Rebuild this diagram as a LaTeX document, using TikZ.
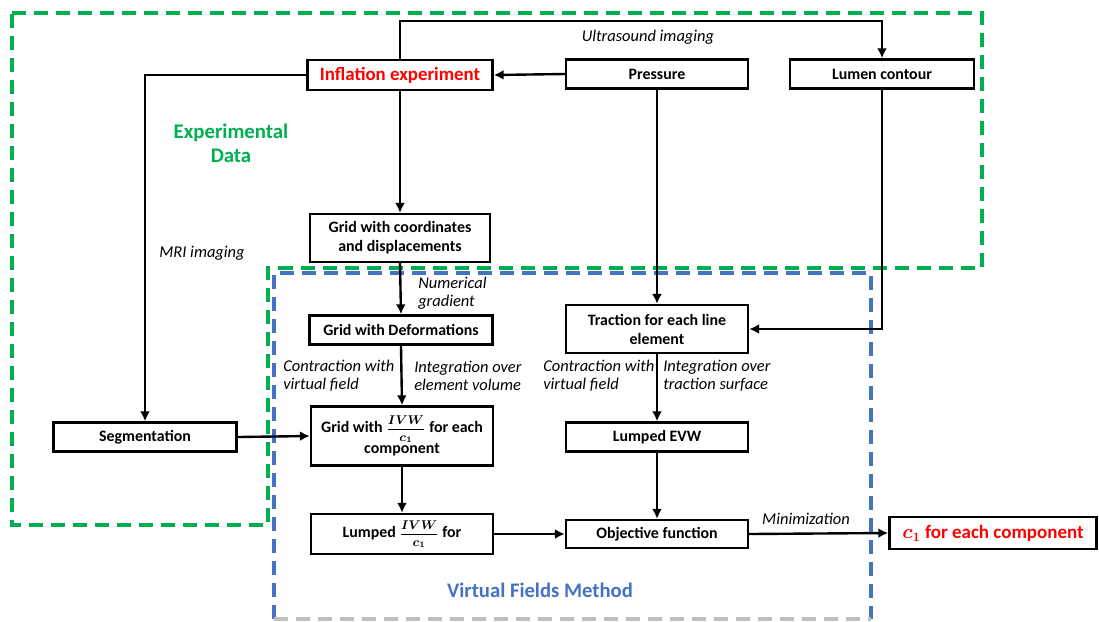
\documentclass[tikz,border=0pt]{standalone}
\usepackage{fontspec}
\setmainfont{Carlito}
\usepackage{amsmath}
\usetikzlibrary{positioning, arrows.meta}
\definecolor{expgreen}{RGB}{0,176,80}
\definecolor{vfmblue}{RGB}{68,114,196}
\definecolor{infred}{RGB}{255,0,0}

\begin{document}
\begin{tikzpicture}[x=0.025cm, y=-0.025cm,
	block/.style={draw, rectangle, line width=1.7pt, text centered, align=center, inner sep=1pt,
	minimum width=4.55cm, minimum height=0.73cm, font=\fontsize{11.3}{13.5}\selectfont\bfseries\boldmath},
	link/.style={-{Latex[length=7pt, width=7pt]}, line width=1.7pt},
	note/.style={font=\fontsize{11.7}{13}\selectfont\itshape, align=left, inner sep=0pt},
	region/.style={line width=2.2pt, dash pattern=on 0.35cm off 0.2cm}]
			
			\useasboundingbox (0,0) rectangle (1099,621);
			
			%Experimental data region
			\draw[region, expgreen] (12,13) -- (982,13) -- (982,268) -- (268,268) -- (268,525) 
			-- (12,525) -- cycle;
			
			%Virtual fields method region
			\draw[region, vfmblue] (274,619) -- (274,273) -- (871,273) -- (871,619);
			\draw[region, gray!50] (274,619) -- (871,619);
			
			%Inflation experiment
			\node (inflationExperiment) at (400,75) [block, minimum width=4.63cm, minimum 
			height=0.75cm, text=infred, font=\fontsize{13.4}{15}\selectfont\bfseries]{Inflation experiment};
			
			%Pressure
			\node (pressure) at (657,74) [block]{Pressure};
			
			%Lumen contour
			\node (lumenContour) at (882,74) [block, minimum width=4.6cm]{Lumen contour};
			
			%Grid with coordinates
			\node (gridCoordinates) at (400,238) [block, minimum width=4.5cm, minimum 
			height=1.2cm]{Grid with coordinates\\ and displacements};
			
			%Grid with deformations
			\node (gridDeformations) at (401,330) [block, minimum width=4.58cm]{Grid with 
			Deformations};
			
			%Traction
			\node (traction) at (657,329) [block, minimum height=1.2cm]{Traction for each line\\ 
			element};
			
			%Segmentation
			\node (segmentation) at (145,437) [block, minimum width=4.58cm]{Segmentation};
			
			%Grid with IVW
			\node (gridIVW) at (402,436) [block, minimum height=1.48cm]{Grid with 
			{\small$\dfrac{IVW}{c_1}$} for each\\ component};
			
			%Lumped EVW
			\node (lumpedEVW) at (657,437) [block]{Lumped EVW};
			
			%Lumped IVW
			\node (lumpedIVW) at (402,534) [block, minimum height=1.0cm]{Lumped 
			{\small$\dfrac{IVW}{c_1}$} for};
			
			%Objective function
			\node (objectiveFunction) at (657,534) [block, minimum height=0.7cm]{Objective 
			function};
			
			%Result
			\node (stiffness) at (993,533) [block, minimum width=5.18cm, minimum height=0.8cm, 
			text=infred, font=\fontsize{13.5}{15}\selectfont\bfseries\boldmath]{$c_1$\ for each 
			component};
			
			%Links
			\draw[link] (pressure.west) -- (inflationExperiment.east);
			\draw[link] (inflationExperiment.north) -- ++(0,-38) -| (lumenContour.north);
			\draw[link] (inflationExperiment.west) -| (segmentation.north);
			\draw[link] (inflationExperiment.south) -- (gridCoordinates.north);
			\draw[link] (gridCoordinates.south) -- (gridDeformations.north);
			\draw[link] (pressure.south) -- (traction.north);
			\draw[link] (lumenContour.south) |- (traction.east);
			\draw[link] (gridDeformations.south) -- (gridIVW.north);
			\draw[link] (traction.south) -- (lumpedEVW.north);
			\draw[link] (segmentation.east) -- (gridIVW.west);
			\draw[link] (gridIVW.south) -- (lumpedIVW.north);
			\draw[link] (lumpedIVW.east) -- (objectiveFunction.west);
			\draw[link] (lumpedEVW.south) -- (objectiveFunction.north);
			\draw[link] (objectiveFunction.east) -- (stiffness.west);
			
			%Link labels
			\node (ultrasoundLabel) at (648,37) [note]{Ultrasound imaging};
			\node (mriLabel) at (202,253) [note]{MRI imaging};
			\node (gradientLabel) at (418,293) [note, anchor=west]{Numerical\\ gradient};
			\node (contractionLeft) at (283,376) [note, anchor=west]{Contraction with\\ virtual 
			field};
			\node (integrationVolume) at (414,376) [note, anchor=west]{Integration over\\ element 
			volume};
			\node (contractionRight) at (543,376) [note, anchor=west]{Contraction with\\ virtual 
			field};
			\node (integrationSurface) at (663,376) [note, anchor=west]{Integration over\\ 
			traction surface};
			\node (minimizationLabel) at (806,519) [note]{Minimization};
			
			%Region labels
			\node (experimentalLabel) at (231,143) [text=expgreen, align=center, 
			font=\fontsize{14.8}{17}\selectfont\bfseries]{Experimental\\ Data};
			\node (vfmLabel) at (540,590) [text=vfmblue, 
			font=\fontsize{14.7}{17}\selectfont\bfseries]{Virtual Fields Method};
			
\end{tikzpicture}
\end{document}
